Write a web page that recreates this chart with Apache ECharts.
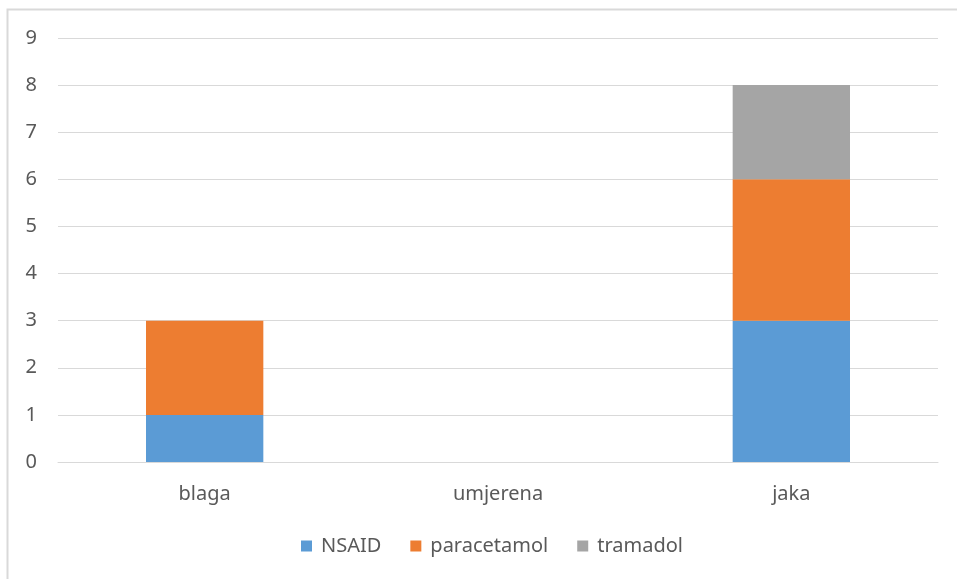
<!DOCTYPE html>
<html>
<head>
<meta charset="utf-8">
<script src="https://cdn.jsdelivr.net/npm/echarts@6/dist/echarts.min.js"></script>
<style>
  html, body { margin: 0; padding: 0; background: #fff; }
  #chart { width: 957px; height: 579px; }
</style>
</head>
<body>
<div id="chart"></div>
<script>
// Pain intensity categories and analgesic counts per category
const categories = ['blaga', 'umjerena', 'jaka'];
const nsaid = [1, 0, 3];
const paracetamol = [2, 0, 3];
const tramadol = [0, 0, 2];
const seriesNames = ['NSAID', 'paracetamol', 'tramadol'];

const font = '"Noto Sans", "Open Sans", sans-serif';
const textColor = '#595959';

const chart = echarts.init(document.getElementById('chart'), null, { renderer: 'canvas' });

function barSeries(name, data, color) {
  return {
    name: name,
    type: 'bar',
    stack: 'total',
    data: data,
    barWidth: '40%',
    itemStyle: { color: color },
    emphasis: { disabled: true }
  };
}

chart.setOption({
  animation: false,
  backgroundColor: '#fff',
  textStyle: { fontFamily: font },
  graphic: [{
    type: 'rect',
    shape: { x: 7.5, y: 9.5, width: 1000, height: 1000 },
    style: { fill: 'none', stroke: '#D9D9D9', lineWidth: 2 },
    silent: true,
    z: -1
  }],
  grid: { left: 58, right: 19, top: 38, bottom: 117 },
  legend: {
    bottom: 18,
    left: 296,
    itemWidth: 11,
    itemHeight: 11,
    itemGap: 29,
    icon: 'rect',
    textStyle: { color: textColor, fontSize: 20, fontFamily: font, padding: [0, 0, 0, 4] },
    data: seriesNames
  },
  xAxis: {
    type: 'category',
    data: categories,
    axisLine: { show: true, lineStyle: { color: '#D9D9D9', width: 1 } },
    axisTick: { show: false },
    axisLabel: { color: textColor, fontSize: 20, margin: 22, fontFamily: font }
  },
  yAxis: {
    type: 'value',
    min: 0,
    max: 9,
    interval: 1,
    axisLine: { show: false },
    axisTick: { show: false },
    splitLine: { lineStyle: { color: '#D9D9D9', width: 1 } },
    axisLabel: { color: textColor, fontSize: 20, margin: 21, fontFamily: font }
  },
  series: [
    barSeries(seriesNames[0], nsaid, '#5B9BD5'),
    barSeries(seriesNames[1], paracetamol, '#ED7D31'),
    barSeries(seriesNames[2], tramadol, '#A5A5A5')
  ]
});
</script>
</body>
</html>
